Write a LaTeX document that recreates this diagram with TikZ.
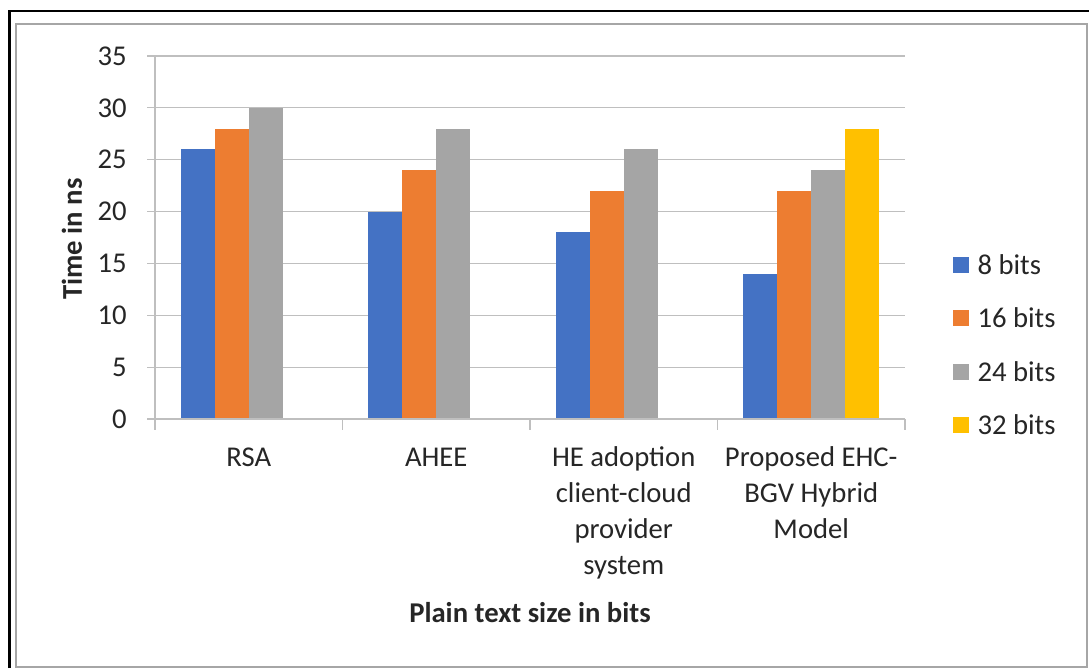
\documentclass[tikz,border=0pt]{standalone}
\usepackage{fontspec}
\setmainfont{Carlito}
\usetikzlibrary{positioning}

\definecolor{bitsA}{HTML}{4472C4}
\definecolor{bitsB}{HTML}{ED7D31}
\definecolor{bitsC}{HTML}{A5A5A5}
\definecolor{bitsD}{HTML}{FFC000}
\definecolor{gridgray}{HTML}{BFBFBF}
\definecolor{framegray}{HTML}{A6A6A6}

\begin{document}
\begin{tikzpicture}[x=0.75pt,y=-0.75pt,
	every node/.style={font=\fontsize{21.5}{27}\selectfont,inner sep=0pt,text=black!85},
	gridline/.style={draw=gridgray,line width=0.9pt},
	catlabel/.style={anchor=north,align=center},
	legkey/.style={minimum size=12pt,inner sep=0pt}]
	\useasboundingbox (0,0) rectangle (1089,668);

	% frame
	\draw[framegray,line width=1.5pt] (16,24) rectangle (1087,667);
	\draw[black,line width=2.2pt] (9.5,668) -- (9.5,11) -- (1089,11);

	% plot area, y in ns
	\begin{scope}[shift={(155,419)},y=7.779pt]
		\draw[gridline] (-8,5) -- (750,5);
		\draw[gridline] (-8,10) -- (750,10);
		\draw[gridline] (-8,15) -- (750,15);
		\draw[gridline] (-8,20) -- (750,20);
		\draw[gridline] (-8,25) -- (750,25);
		\draw[gridline] (-8,30) -- (750,30);
		\draw[gridline] (-8,35) -- (750,35);

		% RSA
		\fill[bitsA] (25.75,0) rectangle (59.75,26);
		\fill[bitsB] (59.75,0) rectangle (93.75,28);
		\fill[bitsC] (93.75,0) rectangle (127.75,30);
		% AHEE
		\fill[bitsA] (213.25,0) rectangle (247.25,20);
		\fill[bitsB] (247.25,0) rectangle (281.25,24);
		\fill[bitsC] (281.25,0) rectangle (315.25,28);
		% HE adoption
		\fill[bitsA] (400.75,0) rectangle (434.75,18);
		\fill[bitsB] (434.75,0) rectangle (468.75,22);
		\fill[bitsC] (468.75,0) rectangle (502.75,26);
		% proposed
		\fill[bitsA] (588.25,0) rectangle (622.25,14);
		\fill[bitsB] (622.25,0) rectangle (656.25,22);
		\fill[bitsC] (656.25,0) rectangle (690.25,24);
		\fill[bitsD] (690.25,0) rectangle (724.25,28);

		% axes
		\draw[gridline] (0,0) -- (0,35);
		\draw[gridline] (-8,0) -- (750,0);
		\foreach \bx in {0,187.5,375,562.5,750}
			\draw[gridline] (\bx,0) -- (\bx,-1.1);

		\node[anchor=east] (t0) at (-28,0) {0};
		\node[anchor=east] (t5) at (-28,5) {5};
		\node[anchor=east] (t10) at (-28,10) {10};
		\node[anchor=east] (t15) at (-28,15) {15};
		\node[anchor=east] (t20) at (-28,20) {20};
		\node[anchor=east] (t25) at (-28,25) {25};
		\node[anchor=east] (t30) at (-28,30) {30};
		\node[anchor=east] (t35) at (-28,35) {35};
	\end{scope}

	% categories
	\node[catlabel] (rsa) at (248.75,448) {RSA};
	\node[catlabel] (ahee) at (436.25,448) {AHEE};
	\node[catlabel] (heac) at (623.75,446) {HE adoption\\client-cloud\\provider\\system};
	\node[catlabel] (ehc) at (811.25,446) {Proposed EHC-\\BGV Hybrid\\Model};

	% axis titles
	\node[font=\fontsize{21.5}{27}\selectfont\bfseries] (xtitle) at (530,613) {Plain text size in bits};
	\node[font=\fontsize{21.5}{27}\selectfont\bfseries,rotate=90] (ytitle) at (72,239) {Time in ns};

	% legend
	\node[legkey,fill=bitsA] (k8) at (961,265) {};
	\node[legkey,fill=bitsB] (k16) at (961,318) {};
	\node[legkey,fill=bitsC] (k24) at (961,372) {};
	\node[legkey,fill=bitsD] (k32) at (961,425) {};
	\node[right=6pt of k8] (l8) {8 bits};
	\node[right=6pt of k16] (l16) {16 bits};
	\node[right=6pt of k24] (l24) {24 bits};
	\node[right=6pt of k32] (l32) {32 bits};
\end{tikzpicture}
\end{document}
